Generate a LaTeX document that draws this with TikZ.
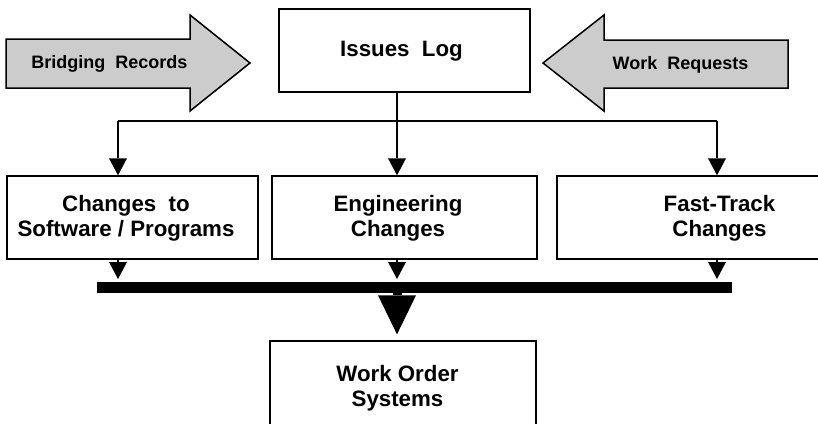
\documentclass[tikz,border=0pt]{standalone}
\usepackage{fontspec}
\setmainfont{Liberation Sans}
\usetikzlibrary{arrows.meta,calc}
\definecolor{arrowgray}{RGB}{204,204,204}
\begin{document}
\begin{tikzpicture}[x=1bp,y=-1bp,
  box/.style={draw,line width=1.3bp,minimum height=83bp,inner sep=0pt},
  boxtext/.style={font=\bfseries\fontsize{22.3bp}{25bp}\selectfont,align=center,inner sep=0pt},
  flowtext/.style={font=\bfseries\fontsize{18bp}{21bp}\selectfont,inner sep=0pt},
  bigarrow/.style={draw,fill=arrowgray,line width=1.5bp,line join=miter},
  link/.style={line width=1.3bp},
  linktip/.style={link,-{Triangle[width=18bp,length=17bp,line width=0pt]}},
  bus/.style={line width=11bp},
  mainflow/.style={line width=9bp,-{Triangle[width=38bp,length=39bp,line width=0pt]}},
]
\clip (0,0) rectangle (818,423);
\fill[white] (0,0) rectangle (818,423);

% central log
\node[box,minimum width=251bp] (issues) at (404.5,50.5) {};
\node[boxtext] (issuestext) at (401.5,51.3) {Issues\ \ Log};

% incoming feeds
\path[bigarrow] (6,39) -- (190,39) -- (190,15) -- (250,63) -- (190,111) -- (190,88) -- (6,88) -- cycle;
\node[flowtext,anchor=base] (bridging) at (109.5,68) {Bridging\ \ Records};
\path[bigarrow] (788,40) -- (604,40) -- (604,15) -- (543,63) -- (604,111) -- (604,88) -- (788,88) -- cycle;
\node[flowtext,anchor=base] (requests) at (680.5,69) {Work\ \ Requests};

% change categories
\node[box,minimum width=251bp] (sw) at (132.5,217.5) {};
\node[boxtext] (swtext) at (126,218.5) {Changes\ \ to\\Software / Programs};
\node[box,minimum width=265bp] (eng) at (404.5,217.5) {};
\node[boxtext] (engtext) at (398,218.5) {Engineering\\Changes};
\node[box,minimum width=333bp] (fast) at (723.5,217.5) {};
\node[boxtext] (fasttext) at (719.5,218) {Fast-Track\\Changes};

% destination
\node[box,minimum width=266bp,minimum height=91bp] (wo) at (403,386.5) {};
\node[boxtext] (wotext) at (397.5,387.8) {Work Order\\Systems};

% distribution from the log
\coordinate (jL) at (118,121);
\coordinate (jM) at (397,121);
\coordinate (jR) at (717,121);
\draw[link] (jM |- issues.south) -- (jM);
\draw[link] (jL) -- (jR);
\draw[linktip] (jL) -- (jL |- sw.north);
\draw[linktip] (jM) -- (jM |- eng.north);
\draw[linktip] (jR) -- (jR |- fast.north);

% collection onto the bus
\coordinate (tipline) at (0,279);
\coordinate (busL) at (97,287.5);
\coordinate (busR) at (732,287.5);
\draw[linktip] (jL |- sw.south) -- (jL |- tipline);
\draw[linktip] (jM |- eng.south) -- (jM |- tipline);
\draw[linktip] (jR |- fast.south) -- (jR |- tipline);
\draw[bus] (busL) -- (busR);
\draw[mainflow] (jM |- busL) -- ($(jM |- wo.north)+(0,-6)$);
\end{tikzpicture}
\end{document}
